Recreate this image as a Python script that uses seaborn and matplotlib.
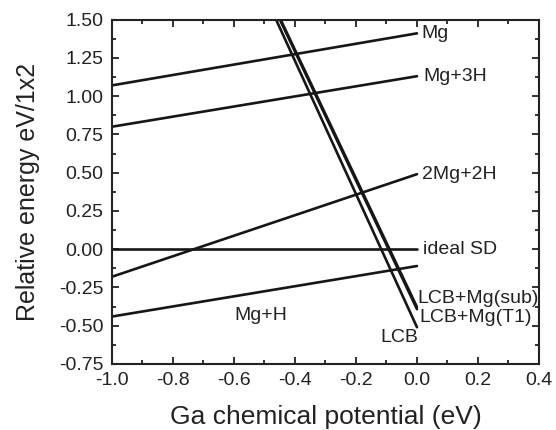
import matplotlib
matplotlib.use("Agg")
import matplotlib.pyplot as plt
import seaborn as sns
import pandas as pd
from matplotlib.ticker import MultipleLocator

# ---- data ----
flat_x = [-1.0, 0.0]
mg_y = [1.07, 1.41]
mg3h_y = [0.80, 1.13]
mg2h2_y = [-0.18, 0.49]
ideal_y = [0.0, 0.0]
mgh_y = [-0.44, -0.11]

lcb_x = [-0.5, 0.0]
lcb_y = [1.665, -0.51]
lcb_t1_y = [1.712, -0.392]
lcb_sub_y = [1.722, -0.378]

series = {
    "Mg": (flat_x, mg_y),
    "Mg+3H": (flat_x, mg3h_y),
    "2Mg+2H": (flat_x, mg2h2_y),
    "ideal SD": (flat_x, ideal_y),
    "Mg+H": (flat_x, mgh_y),
    "LCB": (lcb_x, lcb_y),
    "LCB+Mg(T1)": (lcb_x, lcb_t1_y),
    "LCB+Mg(sub)": (lcb_x, lcb_sub_y),
}

x_ticks = [-1.0, -0.8, -0.6, -0.4, -0.2, 0.0, 0.2, 0.4]
y_ticks = [-0.75, -0.50, -0.25, 0.00, 0.25, 0.50, 0.75, 1.00, 1.25, 1.50]

sns.set_style("ticks")
plt.rcParams['font.family'] = ['Liberation Sans', 'DejaVu Sans']

fig = plt.figure(figsize=(5.56, 4.30), dpi=100)
ax = fig.add_axes([0.2014, 0.1535, 0.768, 0.801])

for name, (xs, ys) in series.items():
    df = pd.DataFrame({"x": xs, "y": ys})
    sns.lineplot(data=df, x="x", y="y", ax=ax, color="#161616", linewidth=1.9,
                 sort=False, estimator=None)

ax.set_xlim(-1.0, 0.4)
ax.set_ylim(-0.75, 1.5)
ax.set_xticks(x_ticks)
ax.set_yticks(y_ticks)
ax.set_xticklabels([f"{v:.1f}" for v in x_ticks])
ax.set_yticklabels([f"{v:.2f}" for v in y_ticks])
ax.xaxis.set_minor_locator(MultipleLocator(0.1))
ax.yaxis.set_minor_locator(MultipleLocator(0.125))
ax.tick_params(which="both", direction="in", top=True, right=True,
               color="#222222", width=1.3)
ax.tick_params(which="major", length=5, labelsize=14, pad=6, colors="#222222")
ax.tick_params(which="minor", length=3)
for s in ax.spines.values():
    s.set_linewidth(1.5)
    s.set_color("#222222")

ax.set_xlabel("Ga chemical potential (eV)", fontsize=19, labelpad=11, color="#222222")
ax.set_ylabel("Relative energy eV/1x2", fontsize=18, labelpad=14, color="#222222")

fs = 14
tc = "#222222"
ax.text(0.016, 1.41, "Mg", fontsize=fs, va="center", ha="left", color=tc)
ax.text(0.02, 1.13, "Mg+3H", fontsize=fs, va="center", ha="left", color=tc)
ax.text(0.016, 0.49, "2Mg+2H", fontsize=fs, va="center", ha="left", color=tc)
ax.text(0.02, 0.0, "ideal SD", fontsize=fs, va="center", ha="left", color=tc)
ax.text(0.0, -0.32, "LCB+Mg(sub)", fontsize=fs, va="center", ha="left", color=tc)
ax.text(0.008, -0.445, "LCB+Mg(T1)", fontsize=fs, va="center", ha="left", color=tc)
ax.text(0.005, -0.58, "LCB", fontsize=fs, va="center", ha="right", color=tc)
ax.text(-0.60, -0.43, "Mg+H", fontsize=fs, va="center", ha="left", color=tc)

fig.savefig("out.png", dpi=100)
